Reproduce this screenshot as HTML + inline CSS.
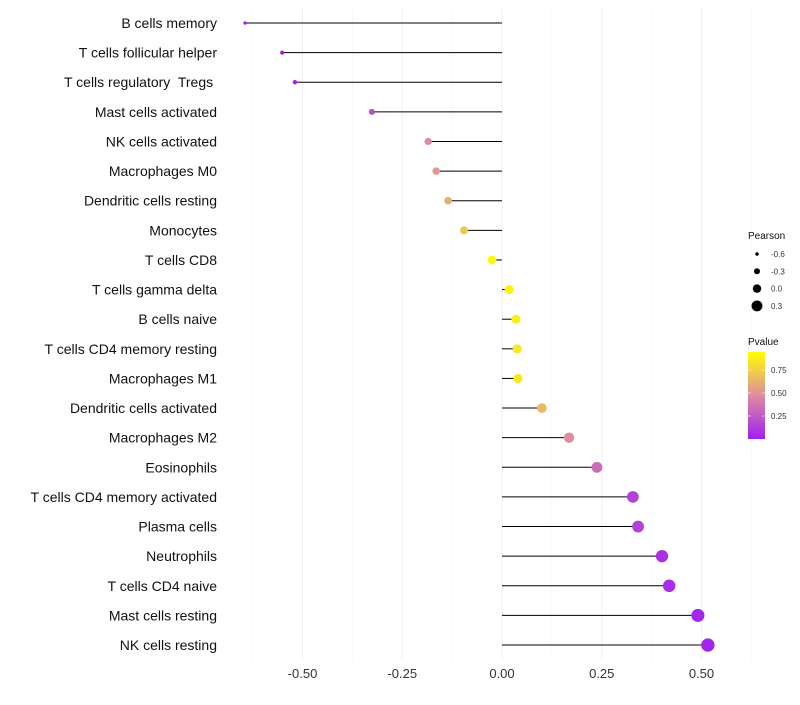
<!DOCTYPE html>
<html><head><meta charset="utf-8"><style>
body{margin:0;background:#fff;font-family:"Liberation Sans",sans-serif}
svg text{font-family:"Liberation Sans",sans-serif;white-space:pre}
</style></head><body>
<svg id="chart" width="800" height="700"></svg>
<script>
const categories=["B cells memory","T cells follicular helper","T cells regulatory  Tregs ","Mast cells activated","NK cells activated","Macrophages M0","Dendritic cells resting","Monocytes","T cells CD8","T cells gamma delta","B cells naive","T cells CD4 memory resting","Macrophages M1","Dendritic cells activated","Macrophages M2","Eosinophils","T cells CD4 memory activated","Plasma cells","Neutrophils","T cells CD4 naive","Mast cells resting","NK cells resting"];
const pearson=[-0.644,-0.551,-0.519,-0.326,-0.185,-0.165,-0.135,-0.095,-0.025,0.018,0.035,0.038,0.040,0.100,0.168,0.238,0.328,0.341,0.401,0.419,0.491,0.516];
const pvalue=[0.0,0.01,0.02,0.2,0.5,0.55,0.65,0.75,0.97,0.97,0.92,0.9,0.9,0.7,0.5,0.35,0.15,0.15,0.08,0.06,0.03,0.02];
const xTicks=[-0.5,-0.25,0,0.25,0.5];
const xTickLabels=["-0.50","-0.25","0.00","0.25","0.50"];
const sizeLegend=[-0.6,-0.3,0.0,0.3];
const colorTicks=[0.25,0.5,0.75];

const NS="http://www.w3.org/2000/svg";
const svg=document.getElementById('chart');
const x=v=>502+v*399;
const y=i=>23+i*29.62;
const r=v=>1.6+(v+0.66)*4.3;
function lerp(a,b,t){return a+(b-a)*t}
function col(p){
  const s=[[0,[160,32,240]],[0.5,[222,140,160]],[1,[255,255,0]]];
  let a=s[0],b=s[1];if(p>0.5){a=s[1];b=s[2];}
  const t=(p-a[0])/(b[0]-a[0]);
  return `rgb(${[0,1,2].map(k=>Math.round(lerp(a[1][k],b[1][k],t))).join(',')})`;
}
function el(tag,attrs,parent){const e=document.createElementNS(NS,tag);for(const k in attrs)e.setAttribute(k,attrs[k]);(parent||svg).appendChild(e);return e;}
for(let v=-0.625;v<=0.63;v+=0.125){
  const g=el('line',{x1:x(v),x2:x(v),y1:8,y2:660,stroke:'#f0f0f0','stroke-width':Math.abs((v*4)%1)<1e-6?0.9:0.5});
  
  
}
xTicks.forEach((v,i)=>{
  const t=el('text',{x:x(v),y:678,'text-anchor':'middle','font-size':13,fill:'#333'});
  t.textContent=xTickLabels[i];
  
  
});
categories.forEach((c,i)=>{
  const t=el('text',{x:217,y:y(i)+5,'text-anchor':'end','font-size':14,fill:'#111'});
  t.textContent=c;
  
  
  const l=el('line',{x1:x(0),x2:x(pearson[i]),y1:y(i),y2:y(i),stroke:'#000','stroke-width':1});
  
  
  const d=el('circle',{cx:x(pearson[i]),cy:y(i),r:r(pearson[i]),fill:col(pvalue[i])});
  
  
});
let t=el('text',{x:748,y:239,'font-size':10,fill:'#111'});t.textContent='Pearson';


sizeLegend.forEach((v,i)=>{
  const cy=254+i*17.3;
  const c=el('circle',{cx:757,cy:cy,r:r(v)*0.95,fill:'#000'});
  
  
  const tt=el('text',{x:771,y:cy+3,'font-size':8,fill:'#333'});tt.textContent=v.toFixed(1);
  
  
});
t=el('text',{x:748,y:345,'font-size':10,fill:'#111'});t.textContent='Pvalue';


const defs=el('defs',{});
const gr=el('linearGradient',{id:'pg',x1:0,y1:1,x2:0,y2:0},defs);
[0,0.25,0.5,0.75,1].forEach(p=>el('stop',{offset:p,'stop-color':col(p)},gr));
const bar=el('rect',{x:748,y:352,width:17,height:87,fill:'url(#pg)'});


colorTicks.forEach(p=>{
  const cy=439-p*92;
  el('line',{x1:748,x2:751,y1:cy,y2:cy,stroke:'#fff','stroke-width':0.6});
  el('line',{x1:762,x2:765,y1:cy,y2:cy,stroke:'#fff','stroke-width':0.6});
  const tt=el('text',{x:771,y:cy+3,'font-size':8,fill:'#333'});tt.textContent=p.toFixed(2);
  
  
});
</script>
</body></html>
